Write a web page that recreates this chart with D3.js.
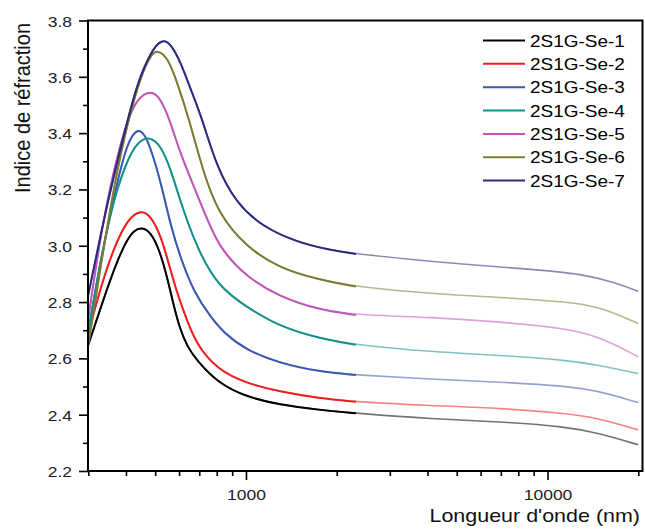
<!DOCTYPE html>
<html><head><meta charset="utf-8">
<script src="https://cdn.jsdelivr.net/npm/d3@7"></script>
<style>body{margin:0;background:#fff}</style>
</head><body><svg id="c" width="645" height="529"></svg>
<script>
const seriesNames = ["2S1G-Se-1","2S1G-Se-2","2S1G-Se-3","2S1G-Se-4","2S1G-Se-5","2S1G-Se-6","2S1G-Se-7"];
const seriesColors = ["#000000","#f01e1e","#3b58b5","#15918c","#c056b8","#7b7b36","#2a2a7e"];

const se1 = [[300,2.648],[339,2.819],[375,2.950],[405,3.025],[426,3.055],[451,3.066],[484,3.048],[516,2.985],[543,2.905],[571,2.805],[601,2.710],[640,2.640],[683,2.596],[808,2.512],[1000,2.464],[1290,2.435],[1750,2.417],[2316,2.405],[4156,2.385],[6918,2.375],[11510,2.358],[14840,2.334],[20000,2.293]];
const se2 = [[300,2.689],[330,2.855],[366,2.997],[405,3.095],[449,3.128],[484,3.106],[523,3.032],[550,2.950],[586,2.845],[620,2.770],[683,2.648],[808,2.559],[1000,2.512],[1290,2.482],[1750,2.458],[2316,2.446],[4156,2.432],[6918,2.423],[11510,2.405],[14840,2.387],[20000,2.346]];
const se3 = [[300,2.695],[330,2.950],[375,3.234],[405,3.368],[437,3.420],[466,3.392],[497,3.305],[529,3.198],[564,3.068],[605,2.960],[674,2.831],[766,2.745],[848,2.689],[1000,2.630],[1290,2.583],[1750,2.553],[2316,2.541],[4156,2.526],[6918,2.516],[11510,2.502],[14840,2.484],[20000,2.443]];
const se4 = [[300,2.690],[330,2.960],[366,3.174],[405,3.308],[437,3.368],[478,3.390],[523,3.355],[564,3.269],[601,3.169],[683,2.997],[808,2.855],[1000,2.784],[1290,2.713],[1750,2.671],[2316,2.648],[4156,2.623],[6918,2.611],[11510,2.594],[14840,2.576],[20000,2.546]];
const se5 = [[300,2.742],[330,3.044],[366,3.281],[405,3.450],[437,3.524],[484,3.553],[523,3.522],[564,3.435],[601,3.335],[718,3.135],[808,2.997],[1000,2.890],[1290,2.819],[1750,2.772],[2316,2.754],[4156,2.746],[6918,2.730],[11510,2.707],[14840,2.677],[20000,2.606]];
const se6 = [[300,2.648],[330,2.930],[366,3.220],[405,3.440],[449,3.605],[484,3.680],[509,3.695],[550,3.670],[593,3.577],[649,3.446],[718,3.269],[808,3.115],[1000,2.997],[1290,2.920],[1750,2.879],[2316,2.855],[4156,2.829],[6918,2.817],[11510,2.801],[14840,2.784],[20000,2.724]];
const se7 = [[300,2.825],[330,3.044],[366,3.257],[405,3.447],[437,3.580],[484,3.690],[525,3.735],[564,3.718],[609,3.648],[657,3.553],[718,3.447],[795,3.287],[927,3.151],[1135,3.068],[1465,3.014],[1888,2.985],[2316,2.971],[4156,2.943],[8918,2.916],[13063,2.900],[16860,2.868],[20000,2.838]];
const seriesData = [se1,se2,se3,se4,se5,se6,se7];

const xMajorTicks = [1000,10000];
const xMinorTicks = [300,400,500,600,700,800,900,2000,3000,4000,5000,6000,7000,8000,9000,20000];
const yMajorTicks = [2.2,2.4,2.6,2.8,3.0,3.2,3.4,3.6,3.8];
const yMinorTicks = [2.3,2.5,2.7,2.9,3.1,3.3,3.5,3.7];
const xTitle = "Longueur d'onde (nm)";
const yTitle = "Indice de réfraction";

const SX = 1.13;
const FONT = "'Liberation Sans', Arial, sans-serif";
const splitAt = 2316;

const svg = d3.select("#c");
const x = d3.scaleLog().domain([300,20000]).range([88.3,638.3]);
const y = d3.scaleLinear().domain([2.2,3.8]).range([471,20.5]);

// curves
const line = d3.line().x(d=>x(d[0])).y(d=>y(d[1])).curve(d3.curveBasis);
const gl = svg.append("g");
seriesData.forEach((s,i)=>{
  gl.append("path").attr("d",line(s)).attr("fill","none")
    .attr("stroke",seriesColors[i]).attr("stroke-width",1.6).attr("stroke-opacity",0.55);
  gl.append("path").attr("d",line(s.filter(d=>d[0]<=splitAt))).attr("fill","none")
    .attr("stroke",seriesColors[i]).attr("stroke-width",2);
});

// axes
function styleAxis(g){
  g.select(".domain").remove();
  g.selectAll(".tick line").attr("stroke","#000").attr("stroke-width",1.6);
  g.attr("font-family",FONT);
}
const gxMinor = svg.append("g").attr("transform","translate(0,471)")
  .call(d3.axisBottom(x).tickValues(xMinorTicks).tickSize(5).tickFormat(""));
styleAxis(gxMinor);
const gxMajor = svg.append("g").attr("transform","translate(0,471)")
  .call(d3.axisBottom(x).tickValues(xMajorTicks).tickSize(9).tickFormat(d3.format("d")));
styleAxis(gxMajor);
gxMajor.selectAll("text").attr("y",null).attr("dy",null)
  .attr("transform",`translate(0,29) scale(${SX},1)`)
  .attr("text-anchor","middle").attr("font-size",15.5).attr("fill","#222");

const gyMinor = svg.append("g").attr("transform","translate(88,0)")
  .call(d3.axisLeft(y).tickValues(yMinorTicks).tickSize(5).tickFormat(""));
styleAxis(gyMinor);
const gyMajor = svg.append("g").attr("transform","translate(88,0)")
  .call(d3.axisLeft(y).tickValues(yMajorTicks).tickSize(9).tickFormat(d3.format(".1f")));
styleAxis(gyMajor);
gyMajor.selectAll("text").attr("x",null).attr("dy",null)
  .attr("transform",`translate(-16,5.5) scale(${SX},1)`)
  .attr("text-anchor","end").attr("font-size",15.5).attr("fill","#222");

// frame
svg.append("rect").attr("x",88).attr("y",20.5).attr("width",554.5).attr("height",450.5)
  .attr("fill","none").attr("stroke","#000").attr("stroke-width",2);

// titles
svg.append("text").text(xTitle).attr("font-family",FONT).attr("font-size",19).attr("fill","#111")
  .attr("text-anchor","end").attr("transform",`translate(640,522) scale(${SX},1)`);
svg.append("text").text(yTitle).attr("font-family",FONT).attr("font-size",20).attr("fill","#111")
  .attr("text-anchor","middle").attr("transform",`translate(29.5,108) scale(${SX},1) rotate(-90)`);

// legend
const lg = svg.append("g");
seriesNames.forEach((n,i)=>{
  const yy = 40.5 + i*23.35;
  lg.append("line").attr("x1",483).attr("x2",525).attr("y1",yy).attr("y2",yy)
    .attr("stroke",seriesColors[i]).attr("stroke-width",2);
  lg.append("text").text(n).attr("font-family",FONT).attr("font-size",16.8).attr("fill","#000")
    .attr("transform",`translate(530,${yy+6}) scale(${SX},1)`);
});
</script></body></html>
